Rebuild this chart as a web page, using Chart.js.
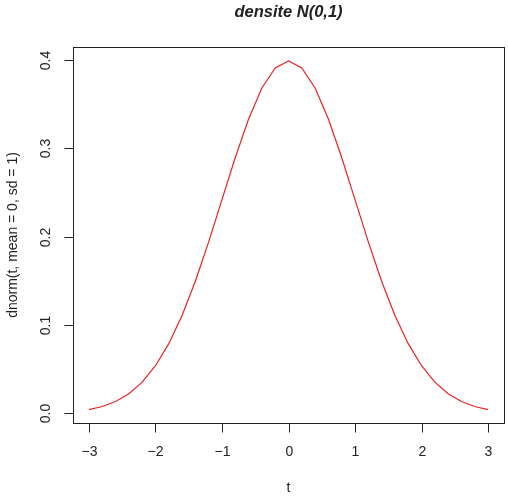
<!DOCTYPE html>
<html lang="fr">
<head>
<meta charset="UTF-8">
<title>densite N(0,1)</title>
<script src="https://cdn.jsdelivr.net/npm/chart.js"></script>
<style>
  html, body { margin: 0; padding: 0; background: #fff; }
  #wrap { width: 508px; height: 500px; }
</style>
</head>
<body>
<div id="wrap"><canvas id="densChart" width="508" height="500"></canvas></div>
<script>
// valeurs (pas de 0.2)
var tValues = [-3, -2.8, -2.6, -2.4, -2.2, -2, -1.8, -1.6, -1.4, -1.2, -1, -0.8, -0.6, -0.4, -0.2, 0,
               0.2, 0.4, 0.6, 0.8, 1, 1.2, 1.4, 1.6, 1.8, 2, 2.2, 2.4, 2.6, 2.8, 3];
var densValues = [0.0044, 0.0079, 0.0136, 0.0224, 0.0355, 0.0540, 0.0790, 0.1109, 0.1497, 0.1942,
                  0.2420, 0.2897, 0.3332, 0.3683, 0.3910, 0.3989, 0.3910, 0.3683, 0.3332, 0.2897,
                  0.2420, 0.1942, 0.1497, 0.1109, 0.0790, 0.0540, 0.0355, 0.0224, 0.0136, 0.0079, 0.0044];
var xTicks = [-3, -2, -1, 0, 1, 2, 3];
var xTickLabels = ['\u22123', '\u22122', '\u22121', '0', '1', '2', '3'];
var yTicks = [0, 0.1, 0.2, 0.3, 0.4];
var yTickLabels = ['0.0', '0.1', '0.2', '0.3', '0.4'];

var FONT = '"Liberation Sans", Arial, sans-serif';

// axes et textes facon R
var rAxes = {
    id: 'rAxes',
    afterDraw: function (chart) {
        var ctx = chart.ctx;
        var a = chart.chartArea;
        var xs = chart.scales.x, ys = chart.scales.y;
        ctx.save();
        ctx.strokeStyle = '#222';
        ctx.fillStyle = '#222';
        ctx.lineWidth = 1;
        ctx.strokeRect(Math.round(a.left) + 0.5, Math.round(a.top) + 0.5,
                       Math.round(a.right - a.left), Math.round(a.bottom - a.top));

        // axe x
        var yb = Math.round(a.bottom) + 0.5;
        var x0 = Math.round(xs.getPixelForValue(xTicks[0])) + 0.5;
        var x1 = Math.round(xs.getPixelForValue(xTicks[xTicks.length - 1])) + 0.5;
        ctx.beginPath();
        ctx.moveTo(x0, yb); ctx.lineTo(x1, yb);
        ctx.font = '14px ' + FONT;
        ctx.textAlign = 'center';
        ctx.textBaseline = 'middle';
        xTicks.forEach(function (v, i) {
            var px = Math.round(xs.getPixelForValue(v)) + 0.5;
            ctx.moveTo(px, yb); ctx.lineTo(px, yb + 9);
            ctx.fillText(xTickLabels[i], px, a.bottom + 29);
        });
        ctx.stroke();

        // axe y
        var xl = Math.round(a.left) + 0.5;
        ctx.beginPath();
        yTicks.forEach(function (v, i) {
            var py = Math.round(ys.getPixelForValue(v)) + 0.5;
            ctx.moveTo(xl, py); ctx.lineTo(xl - 9, py);
            ctx.save();
            ctx.translate(a.left - 27, py);
            ctx.rotate(-Math.PI / 2);
            ctx.fillText(yTickLabels[i], 0, 0);
            ctx.restore();
        });
        ctx.stroke();

        // titres
        ctx.fillText('t', (a.left + a.right) / 2, 488);
        ctx.save();
        ctx.translate(13, (a.top + a.bottom) / 2);
        ctx.rotate(-Math.PI / 2);
        ctx.fillText('dnorm(t, mean = 0, sd = 1)', 0, 0);
        ctx.restore();
        ctx.font = 'italic bold 16.5px ' + FONT;
        ctx.fillText('densite N(0,1)', (a.left + a.right) / 2, 12);
        ctx.restore();
    }
};

var points = tValues.map(function (t, i) { return { x: t, y: densValues[i] }; });

new Chart(document.getElementById('densChart'), {
    type: 'line',
    data: {
        datasets: [{
            data: points,
            borderColor: '#ee2222',
            borderWidth: 1.2,
            pointRadius: 0,
            tension: 0,
            fill: false
        }]
    },
    options: {
        responsive: false,
        animation: false,
        layout: { padding: { left: 73, right: 4, top: 47, bottom: 77 } },
        plugins: { legend: { display: false }, tooltip: { enabled: false } },
        scales: {
            x: { type: 'linear', min: -3.24, max: 3.24, display: false },
            y: { type: 'linear', min: -0.0108, max: 0.4147, display: false }
        }
    },
    plugins: [rAxes]
});
</script>
</body>
</html>
